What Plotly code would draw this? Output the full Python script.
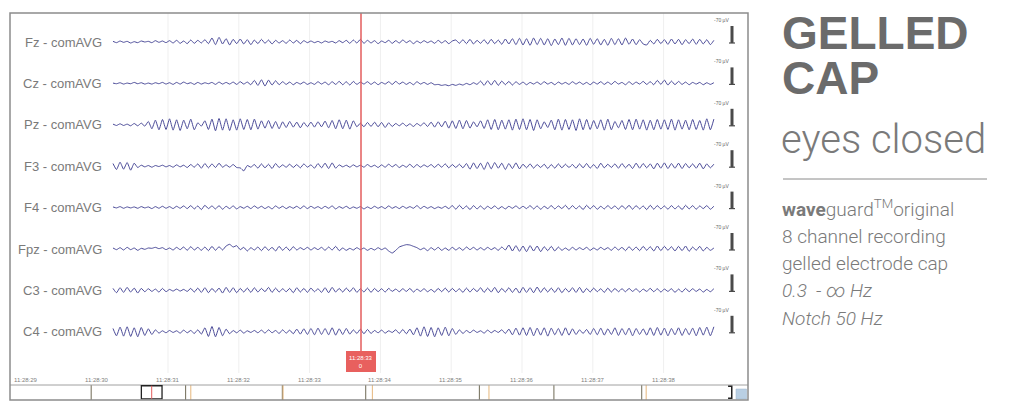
import plotly.graph_objects as go

# ---------------- data ----------------
channels = ["Fz - comAVG", "Cz - comAVG", "Pz - comAVG", "F3 - comAVG",
            "F4 - comAVG", "Fpz - comAVG", "C3 - comAVG", "C4 - comAVG"]

# recording window shown (seconds after 11:28:00)
t_window = [30.223, 38.71]
cursor_time = 33.726
cursor_text = "11:28:33<br>0"
tick_seconds = [29, 30, 31, 32, 33, 34, 35, 36, 37, 38]
tick_labels = ["11:28:29", "11:28:30", "11:28:31", "11:28:32", "11:28:33",
               "11:28:34", "11:28:35", "11:28:36", "11:28:37", "11:28:38"]
grid_seconds = [31, 32, 33, 34, 35, 36, 37, 38]
scale_uv = 70

# EEG samples in microvolts (one value per half alpha cycle)
fz = [2,-2,3,-1,2,-3,1,-2,3,0,2,-2,4,-1,3,-2,
      4,-3,5,-4,3,-5,6,-4,5,-3,7,-5,12,-8,14,-6,
      10,-9,8,-5,9,-6,7,-8,6,-5,8,-4,6,-6,5,-3,
      4,-4,6,-3,5,-5,4,-2,3,-2,2,-3,3,-1,2,-3,
      4,-2,5,-4,6,-3,8,-4,5,-3,4,-5,3,-2,5,-4,
      4,-3,6,-2,4,-5,3,-3,4,-2,3,-4,5,-3,4,-5,
      3,6,-4,7,-5,8,-6,5,-4,7,-6,8,-5,6,-7,9,
      -6,10,-8,11,-9,10,-10,12,-8,11,-9,10,-11,9,-8,12,
      -10,11,-9,10,-8,9,-10,11,-7,10,-9,8,-10,11,-8,10,
      -9,12,-7,9,-8,7,-6,-9,5,-6,8,-5,7,-7,9,-6,
      8,-8,7,-5,9,-7,8,-6,7,-8,5]
cz = [1,-1,2,-2,1,-1,3,-1,2,-2,1,-2,2,-1,3,-2,
      2,-3,3,-2,4,-1,2,-3,3,-2,2,-1,3,-3,4,-2,
      3,-2,4,-3,5,-2,4,-4,9,-6,11,-8,10,-5,8,-4,
      5,-3,4,-4,3,-2,4,-3,2,-3,5,-2,4,-4,5,-3,
      6,-4,5,-5,6,-3,4,-2,5,-3,4,-4,3,-2,5,-3,
      6,-2,4,-3,3,-4,5,-2,3,-3,2,-4,-3,-6,-4,-7,
      -3,-6,-2,-5,0,-4,2,-3,7,-6,8,-5,9,-6,7,-4,
      6,-5,5,-3,4,-4,3,-2,4,-3,5,-2,3,-4,4,-2,
      3,-3,5,-2,4,-3,3,-4,4,-2,5,-3,4,-3,6,-2,
      3,-4,5,-3,4,-2,6,-3,5,-4,9,-3,10,-5,7,-4,
      6,-3,4,-4,3,-2,3,-4,2,-3,2]
pz = [2,-2,3,-2,2,-3,4,-3,5,-4,10,-12,14,-15,16,-14,
      18,-16,15,-17,14,-12,17,-15,6,-4,12,-14,17,-18,19,-16,
      18,-17,15,-16,18,-14,16,-15,17,-13,12,-10,13,-11,10,-12,
      9,-8,10,-7,8,-9,7,-6,8,-7,9,-6,11,-9,13,-12,
      15,-12,14,-13,12,-6,5,-6,7,-5,8,-6,7,-8,6,-5,
      4,-3,5,-4,3,-5,4,-3,6,-5,8,-7,9,-6,11,-10,
      12,-11,14,-12,13,-10,9,-6,12,-11,15,-14,16,-15,14,-13,
      15,-16,17,-14,18,-15,16,-17,15,-12,9,-8,14,-15,17,-16,
      16,-14,15,-17,18,-15,16,-14,13,-12,15,-16,17,-15,10,-9,
      13,-14,16,-15,17,-13,15,-16,14,-15,16,-13,15,-14,17,-16,
      15,-13,14,-15,16,-14,13,-16,18,-15,17]
f3 = [8,-10,12,-9,11,-12,9,-4,3,-2,2,-3,2,-1,3,-2,
      2,-3,4,-2,3,-4,5,-3,7,-6,8,-5,7,-4,9,-3,
      4,-3,5,-4,-5,-14,2,-3,5,-6,7,-5,6,-7,8,-4,
      4,-3,6,-4,5,-5,7,-3,4,-6,8,-5,9,-7,10,-6,
      4,-2,3,-3,4,-2,3,-3,5,-2,3,-4,4,-3,6,-2,
      5,-4,3,-3,6,-4,5,-3,4,-2,5,-4,6,-3,7,-5,
      5,-4,6,-5,8,-9,10,-7,9,-10,12,-8,11,-6,9,-10,
      8,-7,10,-8,6,-5,7,-6,5,-4,6,-7,5,-6,7,-5,
      6,-4,5,-6,7,-5,8,-6,5,-7,9,-5,6,-4,7,-6,
      8,-5,6,-7,9,-6,8,-5,7,-8,9,-6,10,-7,8,-6,
      9,-7,8,-5,7,-6,9,-8,7,-5,6]
f4 = [2,-1,3,-2,2,-1,2,-2,3,-1,2,-3,3,-2,4,-2,
      3,-3,4,-2,5,-3,6,-4,5,-6,7,-3,5,-4,6,-5,
      4,-3,5,-4,3,-2,4,-3,5,-2,4,-3,3,-4,5,-2,
      4,-3,3,-2,4,-3,5,-3,4,-2,3,-3,4,-2,5,-4,
      3,-2,4,-3,2,-2,3,-4,2,-3,4,-2,3,-3,5,-2,
      3,-3,4,-2,3,-2,6,-3,4,-2,3,-3,2,-2,4,-3,
      6,-5,7,-4,5,-6,6,-4,5,-5,4,-3,5,-4,3,-4,
      4,-2,5,-3,4,-3,6,-4,5,-5,4,-3,6,-4,5,-3,
      7,-5,6,-4,5,-6,7,-4,6,-5,4,-4,6,-3,5,-5,
      6,-4,7,-5,6,-4,5,-6,7,-5,6,-4,5,-5,6,-4,
      5,-6,7,-4,6,-5,5,-3,6,-5,4]
fpz = [3,-2,4,-3,5,-2,3,-4,2,-1,3,2,5,1,4,-2,
       3,-3,5,-2,6,-4,7,-3,5,-4,6,-5,8,-4,7,-3,
       9,14,6,10,-2,5,-6,4,-3,6,-5,7,-4,5,-6,8,
       -4,6,-5,7,-3,4,-2,5,-3,4,-2,5,-4,6,-3,8,
       -5,3,-4,2,-3,4,-2,3,-4,2,-3,4,-2,3,-6,-12,
       -4,6,10,13,12,8,4,-2,3,-5,4,-3,5,-4,3,-4,
       5,-3,4,-4,6,-2,5,-3,4,-3,5,-2,4,-4,6,-3,
       12,-6,10,-7,9,-8,10,-6,9,-8,7,-5,8,-6,6,-4,
       3,-4,5,-3,4,-2,5,-4,3,-3,5,-2,4,-4,6,-3,
       5,-5,7,-4,6,-5,8,-4,7,-6,9,-5,8,-4,7,-6,
       8,-5,9,-7,6,-4,8,-6,5,-4,3]
c3 = [6,-7,8,-6,9,-5,7,-8,6,-4,5,-3,4,-5,6,-4,
      3,-2,4,-2,3,-3,6,-5,7,-6,8,-7,6,-5,7,-8,
      9,-6,8,-7,6,-5,7,-6,8,-5,6,-4,9,-6,7,-5,
      5,-4,6,-7,8,-5,6,-6,7,-4,5,-6,8,-7,9,-5,
      6,-5,7,-4,8,-6,5,-5,7,-6,6,-4,5,-5,6,-3,
      4,-4,5,-3,6,-5,4,-3,5,-4,3,-5,6,-4,7,-5,
      6,-4,5,-6,7,-5,6,-4,8,-6,7,-5,9,-7,6,-5,
      8,-6,7,-8,9,-6,8,-7,10,-6,8,-5,7,-6,8,-7,
      6,-5,8,-6,9,-7,6,-5,7,-4,5,-6,7,-5,6,-4,
      5,-4,6,-3,5,-5,4,-3,6,-4,5,-5,4,-3,5,-6,
      4,-5,6,-4,5,-3,4,-5,3,-4,5]
c4 = [10,-12,14,-13,15,-14,12,-15,13,-11,9,-8,6,-4,3,-3,
      4,-2,3,-4,5,-3,4,-5,6,-7,12,-14,16,-15,13,-12,
      8,-6,4,-3,5,-4,3,-2,4,-3,5,-4,6,-3,4,-5,
      6,-4,5,-6,8,-7,9,-8,10,-9,11,-8,10,-9,12,-10,
      9,-8,10,-7,6,-5,8,-6,7,-5,4,-3,5,-4,3,-2,
      6,-5,7,-6,8,-9,12,-13,15,-14,13,-15,12,-11,14,-12,
      10,-8,6,-5,4,-3,5,-2,3,-4,5,-3,4,-2,6,-5,
      8,-9,11,-10,12,-11,13,-12,11,-10,12,-13,11,-9,10,-11,
      12,-10,9,-8,6,-5,7,-8,10,-9,11,-10,9,-8,12,-11,
      10,-9,11,-12,10,-8,9,-10,12,-11,13,-10,11,-12,10,-9,
      12,-11,10,-9,11,-12,13,-10,14,-12,15]
signals = [fz, cz, pz, f3, f4, fpz, c3, c4]

# navigator (percent of whole recording)
nav_marks_dark = [11.0, 23.8, 36.9, 48.2, 63.6, 73.7, 85.6]
nav_marks_orange = [24.5, 37.0, 49.1, 64.9, 86.2]
nav_view = [17.8, 20.6]
nav_cursor = 19.2
nav_end = 97.8

# ---------------- layout helpers ----------------
OFF = 8                                     # page body margin of the html page
W, H = 1024 - OFF, 414 - OFF
PL, PR, PT, PB = 10, 748, 13, 400          # plot box in window pixels
SEC_PX = 70.8                               # pixels per second
T_REF_PX = 26.4                             # pixel of 11:28:29
UV_PER_PX = 3.0                             # signal display gain
BAR_PX = 16                                 # drawn height of the 70 µV bar
ROW0, ROW_STEP = 29, 41.4                  # first baseline (px from box top), spacing


def t_of_px(p):
    return 29 + (p - T_REF_PX) / SEC_PX


def px_x(p):
    return (p - PL) / (PR - PL)


def px_y(p):
    return (PB - p) / (PB - PT)


fig = go.Figure()

trace_color = "#4a4a98"
for k, (name, sig) in enumerate(zip(channels, signals)):
    base = ROW0 + k * ROW_STEP
    n = len(sig)
    dt = (t_window[1] - t_window[0]) / (n - 1)
    xs = [t_window[0] + i * dt for i in range(n)]
    ys = [base - v / UV_PER_PX for v in sig]
    fig.add_trace(go.Scatter(x=xs, y=ys, mode="lines",
                             line=dict(color=trace_color, width=1, shape="spline", smoothing=0.5),
                             hoverinfo="skip", showlegend=False))

# navigator traces
for m in nav_marks_dark:
    fig.add_trace(go.Scatter(x=[m, m], y=[0.0, 1.0], mode="lines", xaxis="x2", yaxis="y2",
                             line=dict(color="#6f6a55", width=1), hoverinfo="skip", showlegend=False))
for m in nav_marks_orange:
    fig.add_trace(go.Scatter(x=[m, m], y=[0.0, 1.0], mode="lines", xaxis="x2", yaxis="y2",
                             line=dict(color="#e6b77c", width=1), hoverinfo="skip", showlegend=False))

shapes = []
annotations = []

# grid lines
for s in grid_seconds:
    shapes.append(dict(type="line", xref="x", yref="y", x0=s, x1=s, y0=0, y1=373 - PT,
                       line=dict(color="#efefef", width=1), layer="below"))

# cursor
shapes.append(dict(type="line", xref="x", yref="y", x0=cursor_time, x1=cursor_time,
                   y0=0, y1=351 - PT, line=dict(color="#e35d5d", width=1.5)))
shapes.append(dict(type="rect", xref="x", yref="y", x0=t_of_px(346), x1=t_of_px(376),
                   y0=351 - PT, y1=372 - PT, fillcolor="#e8605e", line=dict(width=0)))
annotations.append(dict(xref="x", yref="y", x=cursor_time, y=361.5 - PT, text=cursor_text,
                        showarrow=False, font=dict(size=6, color="white", family="Liberation Sans")))

# tick labels (inside box)
for s, lab in zip(tick_seconds, tick_labels):
    annotations.append(dict(xref="x", yref="y", x=s, y=380 - PT, text=lab, showarrow=False,
                            font=dict(size=6, color="#808080", family="Liberation Sans")))

# channel labels and scale bars
for k, name in enumerate(channels):
    base = ROW0 + k * ROW_STEP
    annotations.append(dict(xref="paper", yref="y", x=px_x(104), y=base, text=name,
                            xanchor="right", showarrow=False,
                            font=dict(size=13, color="#7a7a7a", family="Liberation Sans")))
    annotations.append(dict(xref="paper", yref="y", x=px_x(731), y=base - 22,
                            text="-%d µV" % scale_uv, showarrow=False,
                            font=dict(size=5, color="#666666", family="Liberation Sans")))
    shapes.append(dict(type="line", xref="paper", yref="y", x0=px_x(732), x1=px_x(732),
                       y0=base - BAR_PX, y1=base + 1,
                       line=dict(color="#4a4a4a", width=3)))
    shapes.append(dict(type="line", xref="paper", yref="y", x0=px_x(729), x1=px_x(735),
                       y0=base + 1, y1=base + 1, line=dict(color="#4a4a4a", width=1.2)))

# navigator frame
shapes.append(dict(type="line", xref="paper", yref="paper", x0=0, x1=1, y0=px_y(385), y1=px_y(385),
                   line=dict(color="#a0a0a0", width=1)))
shapes.append(dict(type="rect", xref="x2", yref="y2", x0=nav_view[0], x1=nav_view[1], y0=0.08, y1=0.95,
                   line=dict(color="#222222", width=1.3)))
shapes.append(dict(type="line", xref="x2", yref="y2", x0=nav_cursor, x1=nav_cursor, y0=0.08, y1=0.95,
                   line=dict(color="#e35d5d", width=1)))
shapes.append(dict(type="path", xref="x2", yref="y2",
                   path="M %f,0.92 L %f,0.92 L %f,0.12 L %f,0.12" % (nav_end - 0.5, nav_end, nav_end, nav_end - 0.5),
                   line=dict(color="#222222", width=1.5)))
shapes.append(dict(type="rect", xref="paper", yref="paper", x0=px_x(736), x1=px_x(746.5),
                   y0=px_y(399), y1=px_y(389), fillcolor="#b9cfe3", line=dict(color="#9fb7cf", width=0.5)))

# main frame
shapes.append(dict(type="rect", xref="paper", yref="paper", x0=0, x1=1, y0=0, y1=1,
                   line=dict(color="#8c8c8c", width=1.5)))

# right-hand text block
grey = "#6b6b6b"
light = "#7a7a7a"
annotations.append(dict(xref="paper", yref="paper", x=px_x(780), y=px_y(33), text="<b>GELLED</b>",
                        xanchor="left", yanchor="middle", showarrow=False,
                        font=dict(size=46, color=grey, family="Liberation Sans")))
annotations.append(dict(xref="paper", yref="paper", x=px_x(780), y=px_y(78), text="<b>CAP</b>",
                        xanchor="left", yanchor="middle", showarrow=False,
                        font=dict(size=46, color=grey, family="Liberation Sans")))
annotations.append(dict(xref="paper", yref="paper", x=px_x(779), y=px_y(139), text="eyes closed",
                        xanchor="left", yanchor="middle", showarrow=False,
                        font=dict(size=40, color=light, family="Roboto", weight=300)))
shapes.append(dict(type="line", xref="paper", yref="paper", x0=px_x(783), x1=px_x(987),
                   y0=px_y(179), y1=px_y(179), line=dict(color="#8a8a8a", width=1)))

info_lines = ["<b>wave</b>guard<sup>TM</sup>original", "8 channel recording",
              "gelled electrode cap", "<i>0.3  - ∞ Hz</i>", "<i>Notch 50 Hz</i>"]
info_y = [208, 236, 263, 290, 318]
for txt, yy in zip(info_lines, info_y):
    annotations.append(dict(xref="paper", yref="paper", x=px_x(780), y=px_y(yy), text=txt,
                            xanchor="left", yanchor="middle", showarrow=False,
                            font=dict(size=19, color=light, family="Roboto", weight=300)))

fig.update_layout(
    width=W, height=H,
    margin=dict(l=PL - OFF, r=1024 - PR, t=PT - OFF, b=414 - PB, pad=0),
    paper_bgcolor="white", plot_bgcolor="white",
    xaxis=dict(range=[t_of_px(PL), t_of_px(PR)], visible=False, fixedrange=True),
    yaxis=dict(range=[PB - PT, 0], visible=False, fixedrange=True),
    xaxis2=dict(range=[0, 100], domain=[0, 1], anchor="y2", visible=False, fixedrange=True),
    yaxis2=dict(range=[0, 1], domain=[0, px_y(385)], anchor="x2", visible=False, fixedrange=True),
    shapes=shapes, annotations=annotations,
    hovermode=False, showlegend=False,
)

fig.write_html("out.html")
